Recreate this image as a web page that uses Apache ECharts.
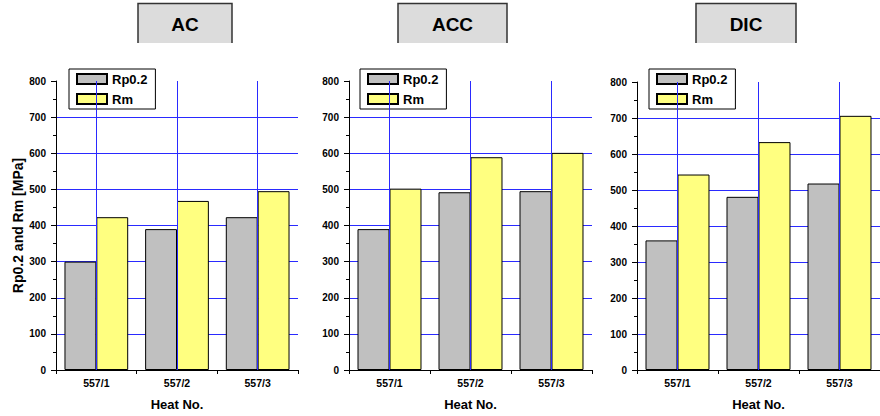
<!DOCTYPE html>
<html>
<head>
<meta charset="utf-8">
<script src="https://cdn.jsdelivr.net/npm/echarts@6/dist/echarts.min.js"></script>
<style>html,body{margin:0;padding:0;background:#fff;}#c{width:880px;height:416px;}</style>
</head>
<body>
<div id="c"></div>
<script>
const categories = ['557/1', '557/2', '557/3'];
const panelTitles = ['AC', 'ACC', 'DIC'];
const seriesNames = ['Rp0.2', 'Rm'];
const rpAC = [300, 390, 423];
const rmAC = [423, 468, 495];
const rpACC = [390, 492, 495];
const rmACC = [502, 589, 601];
const rpDIC = [360, 481, 518];
const rmDIC = [543, 633, 706];
const yMin = 0, yMax = 800, yStep = 100;
const xTitle = 'Heat No.';
const yTitle = 'Rp0.2 and Rm [MPa]';

const FONT = 'Arial, "Liberation Sans", sans-serif';
const BLUE = '#2a2aff';
const panelData = [[rpAC, rmAC], [rpACC, rmACC], [rpDIC, rmDIC]];
const grids = [
  {left: 56, top: 81, width: 242, height: 290},
  {left: 349, top: 81, width: 243, height: 290},
  {left: 637, top: 82, width: 243, height: 290}
];
const legendPos = [69, 360, 649];
const titleBoxes = [[138, 94], [398, 109], [696, 100]];

const xAxes = [], yAxes = [], series = [], legends = [], graphics = [];
grids.forEach((g, i) => {
  xAxes.push({
    type: 'category', gridIndex: i, data: categories,
    axisLine: {show: true, lineStyle: {color: '#000', width: 1}},
    axisTick: {show: true, length: 4, lineStyle: {color: '#000'}},
    axisLabel: {color: '#000', fontWeight: 'bold', fontSize: 10.5, fontFamily: FONT, margin: 7},
    splitLine: {show: false},
    name: xTitle, nameLocation: 'middle', nameGap: 28,
    nameTextStyle: {color: '#000', fontWeight: 'bold', fontSize: 13, fontFamily: FONT}
  });
  yAxes.push({
    type: 'value', gridIndex: i, min: yMin, max: yMax, interval: yStep,
    axisLine: {show: true, lineStyle: {color: '#000', width: 1}},
    axisTick: {show: true, length: 5, lineStyle: {color: '#000'}},
    minorTick: {show: true, splitNumber: 2, length: 3, lineStyle: {color: '#000'}},
    axisLabel: {color: '#000', fontWeight: 'bold', fontSize: 10, fontFamily: FONT, margin: 10},
    splitLine: {show: true, showMinLine: false, showMaxLine: false, lineStyle: {color: BLUE, width: 1, opacity: 1}},
    name: i === 0 ? yTitle : '', nameLocation: 'middle', nameGap: 31, nameRotate: 90,
    nameTextStyle: {color: '#000', fontWeight: 'bold', fontSize: 14, fontFamily: FONT}
  });
  series.push({
    type: 'line', name: 'vlines' + i, xAxisIndex: i, yAxisIndex: i, data: [], z: 1, silent: true,
    markLine: {
      silent: true, symbol: 'none', label: {show: false},
      lineStyle: {color: BLUE, width: 1, type: 'solid', opacity: 1},
      emphasis: {disabled: true},
      data: categories.map(c => ({xAxis: c, lineStyle: {color: BLUE, width: 1, type: 'solid'}}))
    }
  });
  const colors = ['#c0c0c0', '#ffff80'];
  panelData[i].forEach((vals, k) => {
    series.push({
      type: 'bar', name: seriesNames[k], xAxisIndex: i, yAxisIndex: i, data: vals, z: 2,
      barGap: '0%', barCategoryGap: '21%',
      itemStyle: {color: colors[k], borderColor: '#000', borderWidth: 1},
      emphasis: {disabled: true}
    });
  });
  legends.push({
    left: legendPos[i], top: 69, orient: 'vertical', data: seriesNames, icon: 'rect',
    itemWidth: 30, itemHeight: 10, itemGap: 6,
    backgroundColor: '#fff', borderColor: '#000', borderWidth: 1, borderRadius: 0,
    padding: [3, 8, 3, 7], selectedMode: false,
    textStyle: {color: '#000', fontWeight: 'bold', fontSize: 13, fontFamily: FONT, lineHeight: 14}
  });
  const [tx, tw] = titleBoxes[i];
  graphics.push({
    type: 'group', children: [
      {type: 'rect', shape: {x: tx, y: 3, width: tw, height: 40}, style: {fill: '#dcdcdc', stroke: null}},
      {type: 'polyline', shape: {points: [[tx, 43], [tx, 3.5], [tx + tw, 3.5], [tx + tw, 43]]}, style: {stroke: '#333', lineWidth: 1.5, fill: null}},
      {type: 'text', x: tx + tw / 2, y: 24, style: {text: panelTitles[i], fill: '#000', font: 'bold 19px ' + FONT, align: 'center', verticalAlign: 'middle'}}
    ]
  });
});

const chart = echarts.init(document.getElementById('c'), null, {renderer: 'svg'});
chart.setOption({
  animation: false,
  backgroundColor: '#fff',
  grid: grids,
  xAxis: xAxes,
  yAxis: yAxes,
  legend: legends,
  series: series,
  graphic: graphics
});
</script>
</body>
</html>
